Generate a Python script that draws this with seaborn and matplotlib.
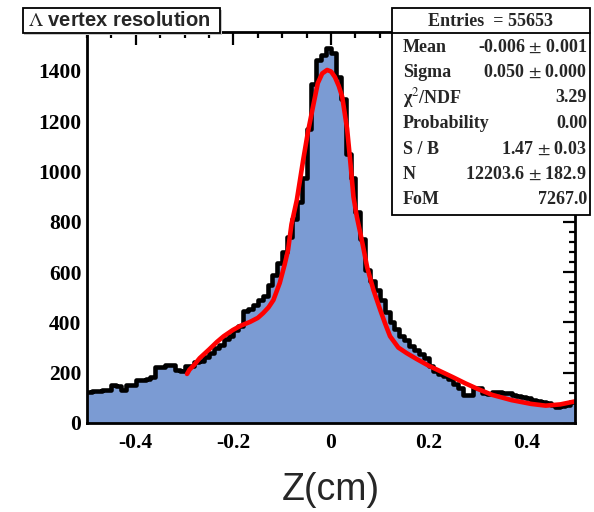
import matplotlib
matplotlib.use("Agg")
import matplotlib.pyplot as plt
import seaborn as sns
import numpy as np
import pandas as pd
from matplotlib.patches import Rectangle
from matplotlib.ticker import MultipleLocator

# histogram: 100 bins from -0.5 to 0.5 cm
z_min, z_max, n_bins = -0.5, 0.5, 100
counts = [
    125, 128, 127, 130, 132, 150, 148, 132, 150, 152,
    170, 172, 175, 183, 222, 222, 230, 232, 210, 205,
    225, 228, 243, 245, 262, 280, 300, 312, 335, 345,
    370, 385, 445, 455, 470, 490, 505, 550, 590, 635,
    680, 740, 810, 880, 975, 1170, 1350, 1445, 1465, 1490,
    1470, 1375, 1290, 1070, 975, 840, 730, 610, 565, 530,
    490, 440, 400, 375, 345, 330, 305, 290, 275, 258,
    225, 205, 195, 185, 175, 155, 140, 110, 112, 140,
    138, 118, 115, 125, 125, 118, 118, 110, 108, 104,
    100, 90, 87, 82, 78, 70, 63, 66, 72, 82,
]

# fitted curve
fit_z = [-0.295, -0.290, -0.280, -0.269, -0.250, -0.234, -0.220, -0.201, -0.185,
         -0.166, -0.150, -0.139, -0.128, -0.118, -0.105, -0.095, -0.088, -0.081,
         -0.070, -0.057, -0.047, -0.037, -0.027, -0.018, -0.008, 0.000, 0.008,
         0.016, 0.023, 0.033, 0.040, 0.046, 0.053, 0.060, 0.067, 0.074, 0.087,
         0.101, 0.111, 0.121, 0.138, 0.155, 0.175, 0.200, 0.225, 0.250, 0.275,
         0.300, 0.330, 0.370, 0.410, 0.440, 0.470, 0.500]
fit_n = [195, 212, 232, 258, 292, 322, 345, 370, 387,
         402, 418, 437, 460, 489, 557, 630, 688, 790,
         887, 1046, 1160, 1257, 1352, 1390, 1404, 1398, 1376,
         1340, 1297, 1170, 1030, 900, 820, 756, 690, 620, 529,
         449, 395, 345, 300, 278, 255, 228, 205, 182, 158,
         136, 112, 91, 76, 69, 74, 86]

stat_labels = ["Mean", "Sigma", "χ$^{2}$/NDF", "Probability", "S / B", "N", "FoM"]
stat_values = [r"-0.006 $\pm$ 0.001", r"0.050 $\pm$ 0.000", "3.29", "0.00",
               r"1.47 $\pm$ 0.03", r"12203.6 $\pm$ 182.9", "7267.0"]
entries = 55653

sns.set_style("white")
plt.rcParams["font.family"] = ["Liberation Serif", "DejaVu Serif"]
plt.rcParams["mathtext.fontset"] = "stix"

W, H = 594, 512
fig = plt.figure(figsize=(W / 100, H / 100), dpi=100)
ax = fig.add_axes([87 / W, 1 - 423 / H, (575 - 87) / W, (423 - 32) / H])

width = (z_max - z_min) / n_bins
hist_df = pd.DataFrame({"z": z_min + width * (np.arange(n_bins) + 0.5), "n": counts})
sns.histplot(data=hist_df, x="z", weights="n", bins=n_bins, binrange=(z_min, z_max),
             element="step", fill=True, color="#7b9bd3", alpha=1, linewidth=0, ax=ax)
sns.histplot(data=hist_df, x="z", weights="n", bins=n_bins, binrange=(z_min, z_max),
             element="step", fill=False, color="black", linewidth=3.3, ax=ax)
sns.lineplot(x=fit_z, y=fit_n, color="red", linewidth=3.3, ax=ax, sort=False)

ax.set_xlim(z_min, z_max)
ax.set_ylim(0, 1555)
ax.xaxis.set_minor_locator(MultipleLocator(0.05))
ax.yaxis.set_major_locator(MultipleLocator(200))
ax.yaxis.set_minor_locator(MultipleLocator(40))
ax.set_xticks([-0.4, -0.2, 0, 0.2, 0.4])
ax.set_xticklabels(["-0.4", "-0.2", "0", "0.2", "0.4"])
ax.tick_params(which="both", direction="in", top=True, right=True, width=1.6, colors="black")
ax.tick_params(which="major", length=9)
ax.tick_params(which="minor", length=4.5)
ax.tick_params(axis="x", pad=7)
ax.tick_params(axis="y", pad=4)
for lab in ax.get_xticklabels() + ax.get_yticklabels():
    lab.set_fontweight("bold")
    lab.set_fontsize(15.5)
for sp in ax.spines.values():
    sp.set_linewidth(2)
    sp.set_color("black")
ax.set_ylabel("")
ax.set_xlabel("Z(cm)", fontfamily="Liberation Sans", fontsize=27)
ax.xaxis.label.set_va("center")
ax.xaxis.set_label_coords(0.5, (423 - 490) / (423 - 32))

# title box
fig.add_artist(Rectangle((24 / W, 1 - 35 / H), 198 / W, 25 / H, transform=fig.transFigure,
                         facecolor="#c8c8c8", edgecolor="none", zorder=9))
fig.add_artist(Rectangle((22.5 / W, 1 - 33 / H), 197 / W, 25 / H, transform=fig.transFigure,
                         facecolor="white", edgecolor="black", linewidth=1.3, zorder=10))
fig.text(28 / W, 1 - 21 / H, r"$\Lambda$ vertex resolution", fontfamily="Liberation Sans",
         fontweight="bold", fontsize=14.5, va="center", ha="left", zorder=11)

# stats box
fig.add_artist(Rectangle((392 / W, 1 - 215 / H), 198 / W, 207 / H, transform=fig.transFigure,
                         facecolor="white", edgecolor="black", linewidth=1.3, zorder=10))
fig.add_artist(plt.Line2D([392 / W, 590 / W], [1 - 32.5 / H, 1 - 32.5 / H],
                          transform=fig.transFigure, color="black", linewidth=1.3, zorder=11))
fig.text(490 / W, 1 - 21 / H, f"Entries  = {entries}", fontsize=13, fontweight="bold",
         ha="center", va="center", zorder=11)
for i, (lab, val) in enumerate(zip(stat_labels, stat_values)):
    y = 1 - (47 + 25.5 * i) / H
    fig.text(403 / W, y, lab, fontsize=13, fontweight="bold", ha="left", va="center", zorder=11)
    fig.text(587 / W, y, val, fontsize=13, fontweight="bold", ha="right", va="center", zorder=11)

fig.savefig("out.png", dpi=100)
